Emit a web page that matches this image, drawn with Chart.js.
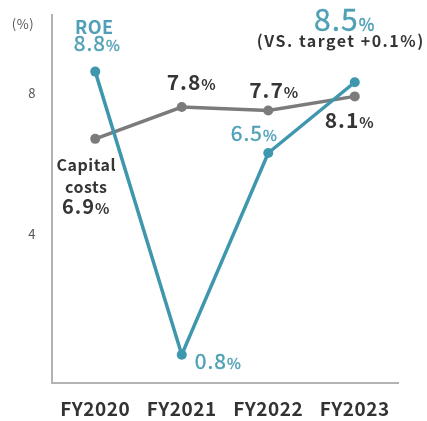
<!DOCTYPE html>
<html>
<head>
<meta charset="utf-8">
<script src="https://cdn.jsdelivr.net/npm/chart.js@4.4.0/dist/chart.umd.min.js"></script>
<style>
  html, body { margin: 0; padding: 0; background: #ffffff; }
  #wrap { width: 427px; height: 421px; }
</style>
</head>
<body>
<div id="wrap"><canvas id="chart" width="427" height="421"></canvas></div>
<script>
// Fiscal years on the horizontal axis
const categories = ['FY2020', 'FY2021', 'FY2022', 'FY2023'];
// Return on equity (%)
const roe = [8.8, 0.8, 6.5, 8.5];
// Cost of capital (%)
const capitalCosts = [6.9, 7.8, 7.7, 8.1];
// Labelled ticks on the value axis
const yTicks = [4, 8];
// Result against the FY2023 target
const targetNote = '(VS. target +0.1%)';

const FONT = '"Noto Sans CJK JP", "Noto Sans", sans-serif';
const TEAL = '#3f97ae';
const TEAL_TEXT = '#4fa0b6';
const GREY = '#7b7b7b';
const DARK = '#353535';

// Draws "12.3%" with a smaller percent sign, anchored on its baseline.
// A thin outline in the same colour gives the regular face a medium weight.
function drawPercent(ctx, value, x, y, big, small, color, weight, align, outline) {
  const num = value.toFixed(1);
  ctx.save();
  ctx.letterSpacing = '1px';
  ctx.fillStyle = color;
  ctx.strokeStyle = color;
  ctx.lineWidth = outline || 0;
  ctx.lineJoin = 'round';
  ctx.textBaseline = 'alphabetic';
  ctx.textAlign = 'left';
  ctx.font = weight + ' ' + big + 'px ' + FONT;
  const w1 = ctx.measureText(num).width;
  ctx.font = weight + ' ' + small + 'px ' + FONT;
  const w2 = ctx.measureText('%').width;
  const total = w1 + w2;
  let left = x;
  if (align === 'center') left = x - total / 2;
  if (align === 'right') left = x - total;
  ctx.font = weight + ' ' + big + 'px ' + FONT;
  ctx.fillText(num, left, y);
  if (outline) ctx.strokeText(num, left, y);
  ctx.font = weight + ' ' + small + 'px ' + FONT;
  ctx.fillText('%', left + w1, y);
  if (outline) ctx.strokeText('%', left + w1, y);
  ctx.restore();
}

function drawText(ctx, text, x, y, size, color, weight, align, spacing) {
  ctx.save();
  ctx.letterSpacing = spacing || '0px';
  ctx.fillStyle = color;
  ctx.textBaseline = 'alphabetic';
  ctx.textAlign = align || 'center';
  ctx.font = weight + ' ' + size + 'px ' + FONT;
  ctx.fillText(text, x, y);
  ctx.restore();
}

// Placement of each value label relative to its point
const roeLabelPlacement = [
  { dx: 2, dy: -21, align: 'center', big: 21, small: 15 },
  { dx: 13, dy: 14, align: 'left', big: 21, small: 15 },
  { dx: -14, dy: -12, align: 'center', big: 21, small: 15 },
  { dx: -10, dy: -51, align: 'center', big: 30, small: 17 }
];
const costLabelPlacement = [
  { dx: -9, dy: 75, align: 'center', big: 20, small: 15 },
  { dx: 10, dy: -17, align: 'center', big: 21, small: 15 },
  { dx: 6, dy: -13, align: 'center', big: 21, small: 15 },
  { dx: -5, dy: 32, align: 'center', big: 21, small: 15 }
];

const valueLabels = {
  id: 'valueLabels',
  beforeDraw(chart) {
    chart.ctx.letterSpacing = '0.5px';
  },
  afterDatasetsDraw(chart) {
    const ctx = chart.ctx;
    const roeMeta = chart.getDatasetMeta(0);
    const costMeta = chart.getDatasetMeta(1);

    roe.forEach((v, i) => {
      const p = roeMeta.data[i];
      const pl = roeLabelPlacement[i];
      drawPercent(ctx, v, p.x + pl.dx, p.y + pl.dy, pl.big, pl.small, TEAL_TEXT, 'normal', pl.align, 0.4);
    });
    const first = roeMeta.data[0];
    drawText(ctx, 'ROE', first.x - 1, first.y - 38, 18, TEAL_TEXT, 'bold', 'center', '0.5px');
    const last = roeMeta.data[roe.length - 1];
    drawText(ctx, targetNote, last.x - 14, last.y - 35, 16, DARK, 'bold', 'center', '1.5px');

    capitalCosts.forEach((v, i) => {
      const p = costMeta.data[i];
      const pl = costLabelPlacement[i];
      drawPercent(ctx, v, p.x + pl.dx, p.y + pl.dy, pl.big, pl.small, DARK, 'bold', pl.align, 0);
    });
    const c0 = costMeta.data[0];
    drawText(ctx, 'Capital', c0.x - 9, c0.y + 32, 16, DARK, 'bold', 'center', '0.5px');
    drawText(ctx, 'costs', c0.x - 9, c0.y + 54, 16, DARK, 'bold', 'center', '0.5px');

    // unit caption beside the top of the value axis
    const area = chart.chartArea;
    drawText(ctx, '(%)', area.left - 29, area.top + 14, 13, '#555555', 'normal', 'center', '0.5px');
  }
};

new Chart(document.getElementById('chart'), {
  type: 'line',
  data: {
    labels: categories,
    datasets: [
      {
        label: 'ROE',
        data: roe,
        borderColor: TEAL,
        backgroundColor: TEAL,
        borderWidth: 3.5,
        pointRadius: 5,
        pointHoverRadius: 5,
        pointBorderWidth: 0,
        tension: 0,
        order: 0
      },
      {
        label: 'Capital costs',
        data: capitalCosts,
        borderColor: GREY,
        backgroundColor: GREY,
        borderWidth: 3.5,
        pointRadius: 5,
        pointHoverRadius: 5,
        pointBorderWidth: 0,
        tension: 0,
        order: 1
      }
    ]
  },
  options: {
    responsive: false,
    animation: false,
    devicePixelRatio: 1,
    layout: { padding: { left: 0, right: 29, top: 15, bottom: 0 } },
    plugins: {
      legend: { display: false },
      tooltip: { enabled: false }
    },
    scales: {
      x: {
        offset: true,
        grid: { display: false, drawTicks: false },
        border: { display: true, color: '#b3b3b3', width: 2 },
        ticks: {
          color: '#333333',
          padding: 14,
          font: { family: FONT, size: 19, weight: 'bold' }
        },
        afterFit(scale) {
          scale.height = 38;
          scale.paddingLeft = 0;
          scale.paddingRight = 0;
        }
      },
      y: {
        min: 0,
        max: 10.4,
        grid: { display: false, drawTicks: false },
        border: { display: true, color: '#b3b3b3', width: 2 },
        afterBuildTicks(scale) { scale.ticks = yTicks.map(v => ({ value: v })); },
        ticks: {
          color: '#555555',
          padding: 16,
          labelOffset: -7,
          font: { family: FONT, size: 13 }
        },
        afterFit(scale) {
          scale.width = 52;
          scale.paddingTop = 0;
          scale.paddingBottom = 0;
        }
      }
    }
  },
  plugins: [valueLabels]
});
</script>
</body>
</html>
